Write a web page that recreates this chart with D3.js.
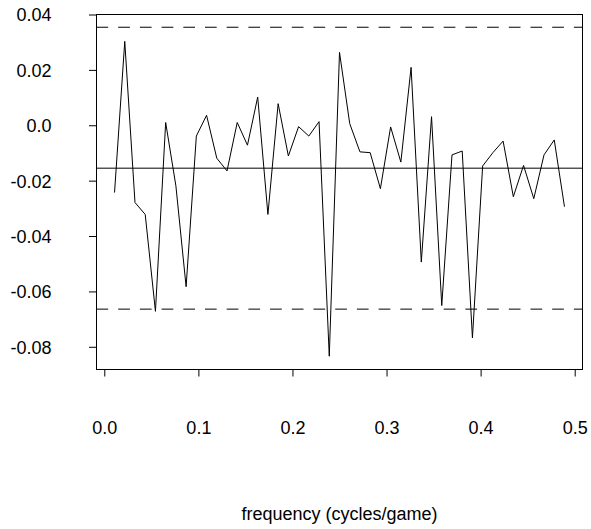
<!DOCTYPE html>
<html>
<head>
<meta charset="utf-8">
<script src="https://cdn.jsdelivr.net/npm/d3@7"></script>
<style>
  body { margin: 0; background: #fff; }
  text { font-family: "Liberation Sans", Arial, sans-serif; fill: #000; }
</style>
</head>
<body>
<svg id="chart"></svg>
<script>
// frequencies (cycles/game)
const freq = [0.01087, 0.02174, 0.03261, 0.04348, 0.05435, 0.06522, 0.07609, 0.08696, 0.09783,
  0.10870, 0.11957, 0.13043, 0.14130, 0.15217, 0.16304, 0.17391, 0.18478, 0.19565, 0.20652,
  0.21739, 0.22826, 0.23913, 0.25000, 0.26087, 0.27174, 0.28261, 0.29348, 0.30435, 0.31522,
  0.32609, 0.33696, 0.34783, 0.35870, 0.36957, 0.38043, 0.39130, 0.40217, 0.41304, 0.42391,
  0.43478, 0.44565, 0.45652, 0.46739, 0.47826, 0.48913];
const values = [-0.0243, 0.0303, -0.0279, -0.0322, -0.0672, 0.0010, -0.0219, -0.0583, -0.0039,
  0.0036, -0.0119, -0.0165, 0.0010, -0.0072, 0.0102, -0.0322, 0.0078, -0.0111, -0.0005,
  -0.0039, 0.0013, -0.0834, 0.0263, 0.0006, -0.0096, -0.0099, -0.0229, -0.0006, -0.0133,
  0.0209, -0.0494, 0.0031, -0.0651, -0.0107, -0.0093, -0.0768, -0.0147, -0.0099, -0.0057,
  -0.0258, -0.0145, -0.0265, -0.0107, -0.0053, -0.0294];
const meanLine = -0.0155;
const bandLines = [0.0354, -0.0664];
const xTicks = [0, 0.1, 0.2, 0.3, 0.4, 0.5];
const yTicks = [0.04, 0.02, 0, -0.02, -0.04, -0.06, -0.08];
const xTitle = "frequency (cycles/game)";

const W = 591, H = 529;
const box = { left: 96.5, right: 582.5, top: 14.5, bottom: 369.5 };

const svg = d3.select("#chart")
  .attr("width", W)
  .attr("height", H);

const x = d3.scaleLinear()
  .domain([-0.0083, 0.5083])
  .range([box.left, box.right]);

const y = d3.scaleLinear()
  .domain([-0.0882, 0.04])
  .range([box.bottom, box.top]);

// R-style labels: plain hyphen, "0.0" for zero
const fmtY = d => d === 0 ? "0.0" : d.toFixed(2);

// data line
const line = d3.line()
  .x((d, i) => x(freq[i]))
  .y(d => y(d));

svg.append("path")
  .datum(values)
  .attr("d", line)
  .attr("fill", "none")
  .attr("stroke", "#000")
  .attr("stroke-width", 1);

// mean and band lines
svg.append("line")
  .attr("x1", box.left).attr("x2", box.right)
  .attr("y1", y(meanLine)).attr("y2", y(meanLine))
  .attr("stroke", "#000")
  .attr("stroke-width", 1);

svg.selectAll(".band")
  .data(bandLines)
  .enter()
  .append("line")
  .attr("class", "band")
  .attr("x1", box.left).attr("x2", box.right)
  .attr("y1", d => y(d)).attr("y2", d => y(d))
  .attr("stroke", "#000")
  .attr("stroke-width", 1)
  .attr("stroke-dasharray", "11.7,10");

// box
svg.append("rect")
  .attr("x", box.left)
  .attr("y", box.top)
  .attr("width", box.right - box.left)
  .attr("height", box.bottom - box.top)
  .attr("fill", "none")
  .attr("stroke", "#000")
  .attr("stroke-width", 1);

// y axis
const yAxis = d3.axisLeft(y)
  .tickValues(yTicks)
  .tickSize(7.5)
  .tickFormat(fmtY);

const gy = svg.append("g")
  .attr("transform", `translate(${box.left},0)`)
  .call(yAxis);
gy.select(".domain").remove();
gy.selectAll(".tick line").attr("stroke", "#000");
gy.selectAll(".tick text")
  .attr("x", -45)
  .attr("dy", "0.36em")
  .style("font-size", "18px")
  .style("font-family", "'Liberation Sans', Arial, sans-serif");

// x axis
const xAxis = d3.axisBottom(x)
  .tickValues(xTicks)
  .tickSize(7)
  .tickFormat(d => d.toFixed(1));

const gx = svg.append("g")
  .attr("transform", `translate(0,${box.bottom})`)
  .call(xAxis);
gx.select(".domain").remove();
gx.selectAll(".tick line").attr("stroke", "#000");
gx.selectAll(".tick text")
  .attr("y", 64)
  .attr("dy", 0)
  .style("font-size", "18px")
  .style("font-family", "'Liberation Sans', Arial, sans-serif");

// x title
svg.append("text")
  .attr("x", (box.left + box.right) / 2)
  .attr("y", 520)
  .attr("text-anchor", "middle")
  .style("font-size", "18px")
  .text(xTitle);
</script>
</body>
</html>
